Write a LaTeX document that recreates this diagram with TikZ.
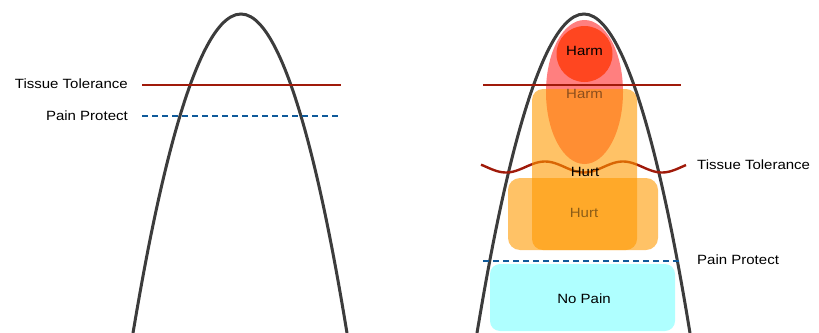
\documentclass[tikz,border=0pt]{standalone}
\usepackage{fontspec}
\setmainfont[FakeStretch=1.12]{Liberation Sans}
\definecolor{curvegray}{HTML}{3C3C3C}
\definecolor{tolred}{HTML}{A01A0A}
\definecolor{protblue}{HTML}{0F5A9A}
\definecolor{harmred}{HTML}{FF0000}
\definecolor{coreRed}{HTML}{FF3300}
\definecolor{hurtorange}{HTML}{FF9900}
\definecolor{nopaincyan}{HTML}{AFFFFF}
\tikzset{
  curve/.style={draw=curvegray, line width=3pt},
  tolline/.style={draw=tolred, line width=2.4pt},
  protline/.style={draw=protblue, line width=2.6pt, dash pattern=on 6pt off 4pt},
  lbl/.style={font=\fontsize{13.4}{15}\selectfont, inner sep=0pt, text=black},
  faded/.style={lbl, text opacity=0.45},
  hurtbox/.style={fill=hurtorange, fill opacity=0.6, rounded corners=11pt},
}
\begin{document}
\begin{tikzpicture}[x=1pt,y=-1pt]
\useasboundingbox (0,0) rectangle (819,332);
% left diagram
\draw[curve] (133,333) parabola bend (241,14) (347,333);
\coordinate (lt1) at (142,85);
\coordinate (lt2) at (341,85);
\coordinate (lp1) at (142,116);
\coordinate (lp2) at (341,116);
\draw[tolline] (lt1) -- (lt2);
\draw[protline] (lp1) -- (lp2);
\node[lbl, anchor=east] (ltl) at (128,84) {Tissue Tolerance};
\node[lbl, anchor=east] (lpl) at (128,116) {Pain Protect};
% right diagram
\draw[curve] (477,333) parabola bend (584,14) (690,333);
\draw[tolline] plot[domain=481:686, samples=90, smooth] (\x, {167+5.5*cos(4.615*(\x-584))});
\fill[harmred, fill opacity=0.5] (584.5,92) ellipse [x radius=38.5pt, y radius=72pt];
\fill[coreRed, fill opacity=0.75] (584.5,54) circle [radius=28pt];
\coordinate (rt1) at (483,85);
\coordinate (rt2) at (681,85);
\draw[tolline] (rt1) -- (rt2);
\fill[hurtbox] (532,89) rectangle (637,250);
\fill[hurtbox, rounded corners=12pt] (508,178) rectangle (658,250);
\coordinate (rp1) at (483,261);
\coordinate (rp2) at (681,261);
\draw[protline] (rp1) -- (rp2);
\fill[nopaincyan, rounded corners=10pt] (490,264) rectangle (675,331);
\node[lbl] (harm) at (584.5,51) {Harm};
\node[faded] (harm2) at (584.5,94) {Harm};
\node[lbl] (hurt) at (585,172) {Hurt};
\node[faded] (hurt2) at (584,213) {Hurt};
\node[lbl] (nopain) at (584,299) {No Pain};
\node[lbl, anchor=west] (rtl) at (697,165) {Tissue Tolerance};
\node[lbl, anchor=west] (rpl) at (697,260) {Pain Protect};
\end{tikzpicture}
\end{document}
